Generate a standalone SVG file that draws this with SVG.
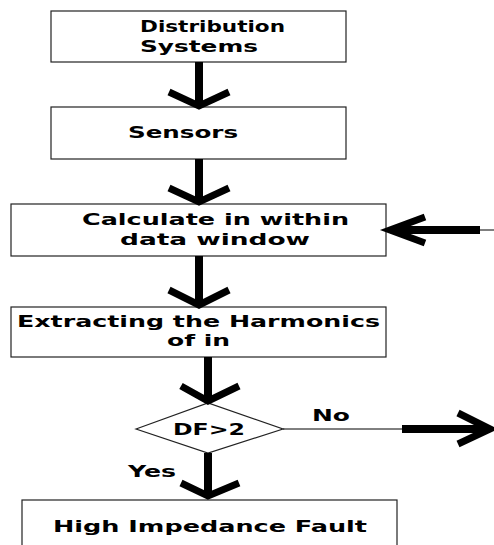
<svg xmlns="http://www.w3.org/2000/svg" width="494" height="545" viewBox="0 0 494 545">
<style>
.box{fill:#fff;stroke:#222;stroke-width:1.2}
.t{font-family:"DejaVu Sans","Liberation Sans",sans-serif;font-weight:bold;font-size:16px;fill:#000}
.shaft{stroke:#000;stroke-width:8;fill:none}
.head{stroke:#000;stroke-width:7;fill:none;stroke-linejoin:miter}
.thin{stroke:#000;stroke-width:1;fill:none}
</style>
<rect width="494" height="545" fill="#fff"/>
<g id="n1"><rect class="box" x="51" y="11" width="295" height="51"/>
<text class="t" x="140" y="32" textLength="145" lengthAdjust="spacingAndGlyphs">Distribution</text>
<text class="t" x="140" y="52" textLength="118" lengthAdjust="spacingAndGlyphs">Systems</text></g>
<g id="n2"><rect class="box" x="51" y="107" width="295" height="52"/>
<text class="t" x="128" y="138" textLength="110" lengthAdjust="spacingAndGlyphs">Sensors</text></g>
<g id="n3"><rect class="box" x="11" y="204" width="375" height="52"/>
<text class="t" x="82" y="225" textLength="267" lengthAdjust="spacingAndGlyphs">Calculate in within</text>
<text class="t" x="120" y="245" textLength="190" lengthAdjust="spacingAndGlyphs">data window</text></g>
<g id="n4"><rect class="box" x="11" y="307" width="375" height="50"/>
<text class="t" x="17" y="327" textLength="363" lengthAdjust="spacingAndGlyphs">Extracting the Harmonics</text>
<text class="t" x="167" y="346" textLength="63" lengthAdjust="spacingAndGlyphs">of in</text></g>
<g id="n5"><polygon class="box" points="136,429 208,403 283,429 208,453"/>
<text class="t" x="173" y="435" textLength="72" lengthAdjust="spacingAndGlyphs">DF&gt;2</text></g>
<g id="n6"><rect class="box" x="22" y="500" width="375" height="60"/>
<text class="t" x="53" y="532" textLength="314" lengthAdjust="spacingAndGlyphs">High Impedance Fault</text></g>
<g id="connectors">
<line class="shaft" x1="199" y1="62" x2="199" y2="104"/>
<polyline class="head" points="169,92 199,106 229,92"/>
<line class="shaft" x1="199" y1="159" x2="199" y2="200"/>
<polyline class="head" points="169,188 199,202 229,188"/>
<line class="thin" x1="480" y1="230" x2="494" y2="230"/>
<line class="shaft" x1="480" y1="230" x2="392" y2="230"/>
<polyline class="head" points="425,217 390,230 425,243"/>
<line class="shaft" x1="199" y1="256" x2="199" y2="302"/>
<polyline class="head" points="169,290 199,305 229,290"/>
<line class="shaft" x1="208" y1="357" x2="208" y2="400"/>
<polyline class="head" points="181,386 208,401 239,386"/>
<line class="thin" x1="283" y1="429" x2="402" y2="429"/>
<line class="shaft" x1="402" y1="429" x2="488" y2="429"/>
<polyline class="head" points="458,413 490,429 458,444"/>
<line class="shaft" x1="208" y1="453" x2="208" y2="494"/>
<polyline class="head" points="181,483 208,496 239,483"/>
<text class="t" x="312" y="421" textLength="38" lengthAdjust="spacingAndGlyphs">No</text>
<text class="t" x="128" y="477" textLength="48" lengthAdjust="spacingAndGlyphs">Yes</text>
</g>
</svg>
